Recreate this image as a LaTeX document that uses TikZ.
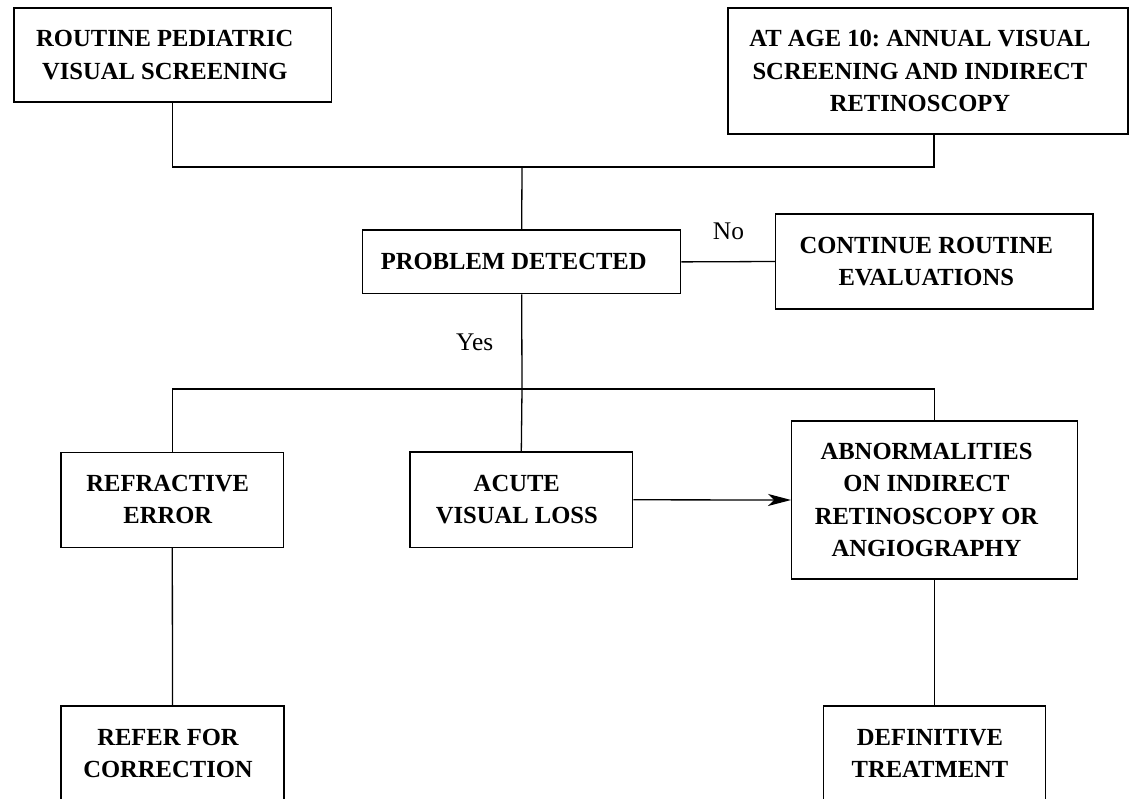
\documentclass[tikz,border=0pt]{standalone}
\usepackage{fontspec}
\setmainfont{Liberation Serif}
\usetikzlibrary{arrows.meta}
\frenchspacing
% each box line carries a little trailing space, so it sits slightly left of centre
\newcommand\padln[1]{#1\kern 16pt}
\newcommand\padsm[1]{#1\kern 9pt}
\begin{document}
\begin{tikzpicture}[x=1pt,y=-1pt,
  line width=1.3pt,
  box/.style={draw, rectangle, align=center, inner sep=0pt,
    font=\fontsize{24.6}{32.2}\selectfont\bfseries},
  lbl/.style={anchor=base, inner sep=0pt, font=\fontsize{25.4}{30}\selectfont}]
\useasboundingbox (0,0) rectangle (1129,799);
\clip (0,0) rectangle (1129,799);

% boxes
\node[box, minimum width=317.7, minimum height=94] (b1) at (172.8,55)
  {\padln{ROUTINE PEDIATRIC}\\\padln{VISUAL SCREENING}};
\node[box, minimum width=400, minimum height=126] (b2) at (928,71)
  {\padln{AT AGE 10: ANNUAL VISUAL}\\\padln{SCREENING AND INDIRECT}\\\padln{RETINOSCOPY}};
\node[box, minimum width=318, minimum height=63.7] (pd) at (521.7,261.9)
  {\padln{PROBLEM DETECTED}};
\node[box, minimum width=317.3, minimum height=95] (cr) at (934.3,261.5)
  {\padln{CONTINUE ROUTINE}\\\padln{EVALUATIONS}};
\node[box, minimum width=222.7, minimum height=95] (re) at (172.3,499.8)
  {\padsm{REFRACTIVE}\\\padsm{ERROR}};
\node[box, minimum width=222.7, minimum height=95.7] (av) at (521.3,499.8)
  {\padsm{ACUTE}\\\padsm{VISUAL LOSS}};
\node[box, minimum width=285.6, minimum height=158] (ab) at (934.5,500)
  {\padln{ABNORMALITIES}\\\padln{ON INDIRECT}\\\padln{RETINOSCOPY OR}\\\padln{ANGIOGRAPHY}};
\node[box, minimum width=223, minimum height=95] (rc) at (172.5,753.6)
  {\padsm{REFER FOR}\\\padsm{CORRECTION}};
\node[box, minimum width=222.4, minimum height=95] (dt) at (934.5,753.5)
  {\padsm{DEFINITIVE}\\\padsm{TREATMENT}};

% labels
\node[lbl] (no) at (728.5,239.3) {No};
\node[lbl] (yes) at (474.7,350) {Yes};

% junction points
\coordinate (jt) at (522,167);
\coordinate (jb) at (522,389);
\coordinate (r2) at (934,134);

% connectors
\draw (b1.south) |- (jt) -| (r2);
\draw (jt) -- (pd.north);
\draw (pd.east) -- (cr.west);
\draw (pd.south) -- (jb);
\draw (jb) -| (re.north);
\draw (jb) -| (ab.north);
\draw (jb) -- (av.north);
\draw[-{Stealth[length=23pt,width=12pt,inset=6pt]}] (av.east) -- (ab.west);
\draw (re.south) -- (rc.north);
\draw (ab.south) -- (dt.north);
\end{tikzpicture}
\end{document}
